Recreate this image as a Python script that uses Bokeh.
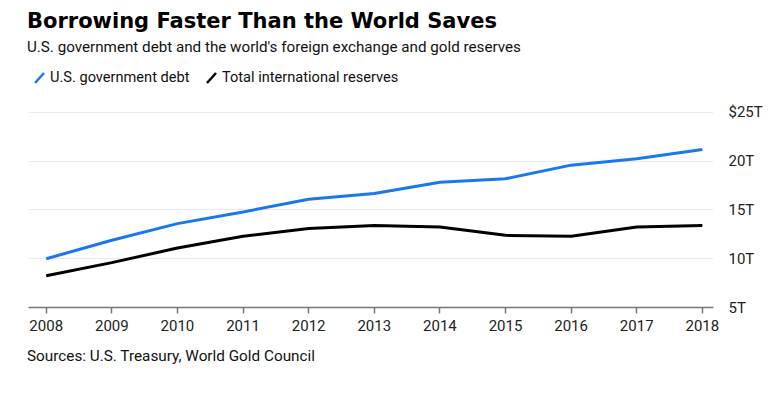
from bokeh.plotting import figure
from bokeh.models import FixedTicker, Range1d, Div
from bokeh.layouts import column
from bokeh.embed import file_html
from bokeh.resources import INLINE

years = [2008, 2009, 2010, 2011, 2012, 2013, 2014, 2015, 2016, 2017, 2018]
us_debt = [10.0, 11.9, 13.6, 14.8, 16.1, 16.7, 17.85, 18.2, 19.6, 20.25, 21.2]
reserves = [8.25, 9.6, 11.1, 12.3, 13.1, 13.4, 13.25, 12.4, 12.3, 13.25, 13.4]
y_ticks = [5, 10, 15, 20, 25]
y_tick_labels = ["5T", "10T", "15T", "20T", "$25T"]

title = "Borrowing Faster Than the World Saves"
subtitle = "U.S. government debt and the world's foreign exchange and gold reserves"
series_names = ["U.S. government debt", "Total international reserves"]
series_colors = ["#1a78ef", "#000000"]
source = "Sources: U.S. Treasury, World Gold Council"

W = 780
HEAD_H = 96          # header div height (page y 0..96)
FIG_TOP = HEAD_H
FT, FB = 100, 307    # frame top / bottom in page pixels
FIG_BOTTOM = 340
FL, FR = 28, 713
FONT = "Roboto"

p = figure(width=W, height=FIG_BOTTOM - FIG_TOP, output_backend="svg",
           toolbar_location=None, y_axis_location="right",
           x_range=Range1d(2007.73, 2018.17), y_range=Range1d(5, 26.23),
           min_border_left=FL, min_border_right=W - FR,
           min_border_top=FT - FIG_TOP, min_border_bottom=FIG_BOTTOM - FB)
p.outline_line_color = None
p.background_fill_color = "white"
p.border_fill_color = "white"

p.line(years, us_debt, line_color=series_colors[0], line_width=3)
p.line(years, reserves, line_color=series_colors[1], line_width=3)

p.xgrid.grid_line_color = None
p.ygrid.grid_line_color = "#ebebeb"
p.ygrid.grid_line_width = 1
p.ygrid.ticker = FixedTicker(ticks=y_ticks)

xa = p.xaxis[0]
xa.ticker = FixedTicker(ticks=years)
xa.axis_line_color = "#777777"
xa.axis_line_width = 1.5
xa.major_tick_line_color = "#777777"
xa.major_tick_line_width = 1.5
xa.major_tick_in = 0
xa.major_tick_out = 6
xa.minor_tick_line_color = None
xa.major_label_standoff = 6
xa.major_label_text_font = FONT
xa.major_label_text_font_size = "15px"
xa.major_label_text_color = "#222222"

ya = p.yaxis[0]
ya.ticker = FixedTicker(ticks=y_ticks)
ya.major_label_overrides = {t: l for t, l in zip(y_ticks, y_tick_labels)}
ya.axis_line_color = None
ya.major_tick_line_color = None
ya.minor_tick_line_color = None
ya.major_tick_in = 0
ya.major_tick_out = 0
ya.major_label_standoff = 15
ya.major_label_text_font = FONT
ya.major_label_text_font_size = "15px"
ya.major_label_text_color = "#222222"


def span(txt, x, yc, size, font=FONT, weight="normal", color="#111111"):
    lh = 22
    return (f'<div style="position:absolute;left:{x}px;top:{yc - lh / 2}px;'
            f'height:{lh}px;line-height:{lh}px;font-family:\'{font}\';'
            f'font-size:{size}px;font-weight:{weight};color:{color};'
            f'white-space:nowrap;">{txt}</div>')


slashes = "".join(
    f'<line x1="{x0}" y1="83" x2="{x0 + 9}" y2="73" stroke="{c}" '
    f'stroke-width="2.5"/>'
    for x0, c in [(35, series_colors[0]), (207, series_colors[1])])

head_html = (
    f'<div style="position:relative;width:{W}px;height:{HEAD_H}px;">'
    + span(title, 27, 21, 21, "DejaVu Sans", "bold", "#000000")
    + span(subtitle.replace("'", "&#39;"), 27, 47, 15.2)
    + span(series_names[0], 50, 77, 14.6)
    + span(series_names[1], 222, 77, 14.6)
    + f'<svg style="position:absolute;left:0;top:0" width="{W}" '
      f'height="{HEAD_H}">{slashes}</svg>'
    + '</div>')

FOOT_H = 394 - FIG_BOTTOM
foot_html = (f'<div style="position:relative;width:{W}px;height:{FOOT_H}px;">'
             + span(source, 27, 356 - FIG_BOTTOM, 15.3) + '</div>')

head = Div(text=head_html, width=W, height=HEAD_H, margin=0)
foot = Div(text=foot_html, width=W, height=FOOT_H, margin=0)

layout = column(head, p, foot, spacing=0)
open("out.html", "w").write(file_html(layout, INLINE))
